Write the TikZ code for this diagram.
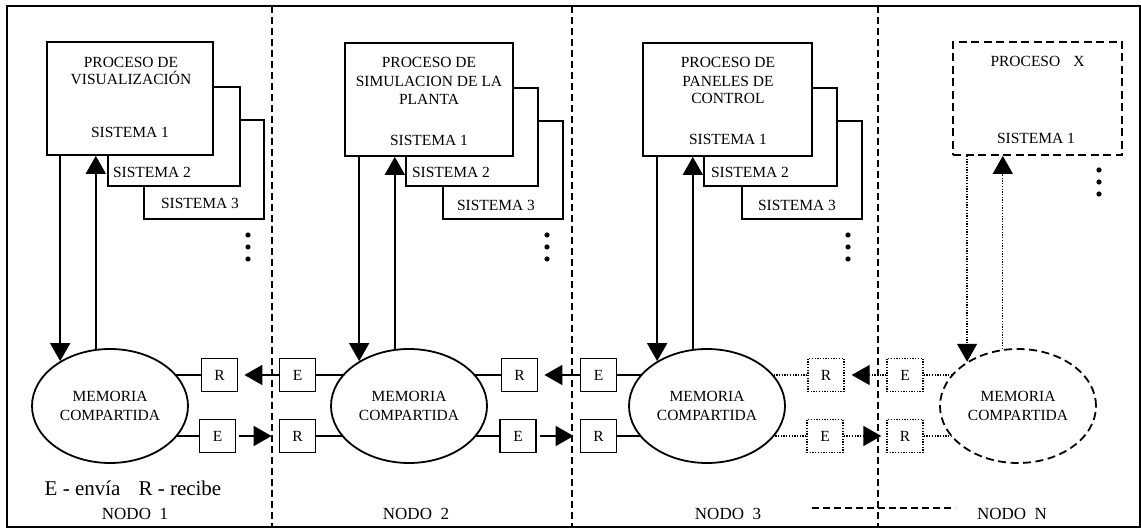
\documentclass[tikz,border=0pt]{standalone}
\usepackage{fontspec}
\setmainfont{Liberation Serif}
\usetikzlibrary{arrows.meta,shapes.geometric}

\tikzset{
  solidln/.style={line width=1.8pt},
  dotln/.style={line width=1.4pt, dash pattern=on 1.3pt off 1.4pt},
  divln/.style={line width=1.8pt, dash pattern=on 7pt off 4pt},
  tri/.style={-{Triangle[length=18pt,width=20pt]}},
  sysbox/.style={draw, line width=1.8pt, fill=white, inner sep=0pt},
  procdash/.style={sysbox, dash pattern=on 8pt off 4.5pt},
  msgbox/.style={draw, line width=1.8pt, fill=white, inner sep=0pt,
    minimum width=36pt, minimum height=33pt,
    font=\fontsize{15.5}{18}\selectfont},
  msgdot/.style={msgbox, line width=1.4pt, dash pattern=on 1.3pt off 1.4pt},
  memo/.style={ellipse, draw, line width=1.8pt, fill=white, inner sep=0pt,
    minimum width=156pt, minimum height=114pt, align=center,
    font=\fontsize{15.5}{19}\selectfont},
  lbl/.style={inner sep=0pt, anchor=base, font=\fontsize{15.5}{18}\selectfont},
  nodolbl/.style={inner sep=0pt, anchor=base, font=\fontsize{17}{20}\selectfont},
  dotmark/.style={fill=black},
}

\begin{document}
\begin{tikzpicture}[x=1pt,y=-1pt]
\useasboundingbox (0,0) rectangle (1141,529);

% outer frame and node separators
\draw[line width=1.8pt] (7,6) rectangle (1140,527);
\draw[divln] (272,6) -- (272,527);
\draw[divln] (572,6) -- (572,527);
\draw[divln] (878,6) -- (878,527);
\draw[divln] (812,508) -- (955,508);

% ---------- send / receive boxes ----------
\node[msgbox] (R1) at (219.5,375) {R};
\node[msgbox] (E1) at (217.5,436) {E};
\node[msgbox] (E2l) at (297.5,375) {E};
\node[msgbox] (R2l) at (297.5,436) {R};
\node[msgbox] (R2) at (519.5,375) {R};
\node[msgbox] (E2) at (518,436) {E};
\node[msgbox] (E3l) at (598.5,375) {E};
\node[msgbox] (R3l) at (598.5,436) {R};
\node[msgdot] (R3) at (826,375) {R};
\node[msgdot] (E3) at (825,436) {E};
\node[msgdot] (ENl) at (905,375) {E};
\node[msgdot] (RNl) at (905,436) {R};

% ---------- shared memories ----------
\coordinate (m1) at (110,406);
\coordinate (m2) at (409,406);
\coordinate (m3) at (707,406);
\coordinate (mN) at (1018,406);

\draw[solidln] (R1.west) -- (m1 |- R1.west);
\draw[solidln] (E1.west) -- (m1 |- E1.west);
\draw[solidln] (E2l.east) -- (m2 |- E2l.east);
\draw[solidln] (R2l.east) -- (m2 |- R2l.east);
\draw[solidln] (R2.west) -- (m2 |- R2.west);
\draw[solidln] (E2.west) -- (m2 |- E2.west);
\draw[solidln] (E3l.east) -- (m3 |- E3l.east);
\draw[solidln] (R3l.east) -- (m3 |- R3l.east);
\draw[dotln] (R3.west) -- (m3 |- R3.west);
\draw[dotln] (E3.west) -- (m3 |- E3.west);
\draw[dotln] (ENl.east) -- (mN |- ENl.east);
\draw[dotln] (RNl.east) -- (mN |- RNl.east);

\node[memo] (e1) at (m1) {MEMORIA\\COMPARTIDA};
\node[memo] (e2) at (m2) {MEMORIA\\COMPARTIDA};
\node[memo] (e3) at (m3) {MEMORIA\\COMPARTIDA};
\node[memo, dash pattern=on 8pt off 4.5pt] (eN) at (mN) {MEMORIA\\COMPARTIDA};

% ---------- process stacks ----------
% node 1
\node[sysbox, minimum width=120pt, minimum height=99pt] (s1c) at (204,169.5) {};
\node[sysbox, minimum width=132pt, minimum height=99pt] (s1b) at (174,136.5) {};
\node[sysbox, minimum width=166pt, minimum height=113pt] (s1a) at (130,98.5) {};
\node[lbl] (t1a) at (131,68) {PROCESO DE};
\node[lbl] (t1b) at (131,85) {VISUALIZACIÓN};
\node[lbl] (t1c) at (130,138) {SISTEMA 1};
\node[lbl] (t1d) at (152,178) {SISTEMA 2};
\node[lbl] (t1e) at (200,209) {SISTEMA 3};

% node 2
\node[sysbox, minimum width=120pt, minimum height=98pt] (s2c) at (503,170) {};
\node[sysbox, minimum width=132pt, minimum height=98pt] (s2b) at (472,137) {};
\node[sysbox, minimum width=168pt, minimum height=113pt] (s2a) at (429,99.5) {};
\node[lbl] (t2a) at (429,68) {PROCESO DE};
\node[lbl] (t2b) at (429,87) {SIMULACION DE LA};
\node[lbl] (t2c) at (429,105) {PLANTA};
\node[lbl] (t2d) at (429,146) {SISTEMA 1};
\node[lbl] (t2e) at (451,178) {SISTEMA 2};
\node[lbl] (t2f) at (496,211) {SISTEMA 3};

% node 3
\node[sysbox, minimum width=120pt, minimum height=98pt] (s3c) at (802,170) {};
\node[sysbox, minimum width=133pt, minimum height=98pt] (s3b) at (770.5,137) {};
\node[sysbox, minimum width=169pt, minimum height=113pt] (s3a) at (727.5,99.5) {};
\node[lbl] (t3a) at (728,68) {PROCESO DE};
\node[lbl] (t3b) at (728,87) {PANELES DE};
\node[lbl] (t3c) at (728,104) {CONTROL};
\node[lbl] (t3d) at (728,145) {SISTEMA 1};
\node[lbl] (t3e) at (750,178) {SISTEMA 2};
\node[lbl] (t3f) at (797,211) {SISTEMA 3};

% node N
\node[procdash, minimum width=169pt, minimum height=113pt] (sNa) at (1037.5,98.5) {};
\node[lbl] (tNa) at (1037.5,67) {PROCESO\hspace{13pt}X};
\node[lbl] (tNb) at (1036,144) {SISTEMA 1};

% continuation dots
\foreach \px/\py in {248/235, 248/247, 248/259,
                     547/235, 547/247, 547/259,
                     848/235, 848/247, 848/259,
                     1099/170, 1099/182, 1099/194}
  \fill[dotmark] (\px,\py) circle (2.6pt);

% ---------- process <-> memory ----------
\draw[solidln, tri] (e1.138.8 |- s1a.south) -- (e1.138.8);
\draw[solidln, tri] (e1.104) -- (e1.104 |- s1a.south);
\draw[solidln, tri] (e2.138.8 |- s2a.south) -- (e2.138.8);
\draw[solidln, tri] (e2.104) -- (e2.104 |- s2a.south);
\draw[solidln, tri] (e3.138.8 |- s3a.south) -- (e3.138.8);
\draw[solidln, tri] (e3.104) -- (e3.104 |- s3a.south);
\draw[dotln, tri] (eN.139.8 |- sNa.south) -- (eN.139.8);
\draw[dotln, tri] (eN.105) -- (eN.105 |- sNa.south);

% ---------- messages between nodes ----------
\draw[solidln, tri, shorten >=6pt] (E2l.west) -- (R1.east);
\draw[solidln, tri, shorten <=3pt, shorten >=7pt] (E1.east) -- (R2l.west);
\draw[solidln, tri, shorten >=6pt] (E3l.west) -- (R2.east);
\draw[solidln, tri, shorten <=3pt, shorten >=6pt] (E2.east) -- (R3l.west);
\draw[dotln, tri, shorten >=7pt] (ENl.west) -- (R3.east);
\draw[dotln, tri, shorten >=5pt] (E3.east) -- (RNl.west);

% ---------- captions ----------
\node[inner sep=0pt, anchor=base, font=\fontsize{21}{24}\selectfont] (legend) at (133,495)
  {E - envía\hspace{18pt}R - recibe};
\node[nodolbl] (n1) at (135,519) {NODO\ \ 1};
\node[nodolbl] (n2) at (416,519) {NODO\ \ 2};
\node[nodolbl] (n3) at (728,519) {NODO\ \ 3};
\node[nodolbl] (nN) at (1012,519) {NODO\ \ N};
\end{tikzpicture}
\end{document}
